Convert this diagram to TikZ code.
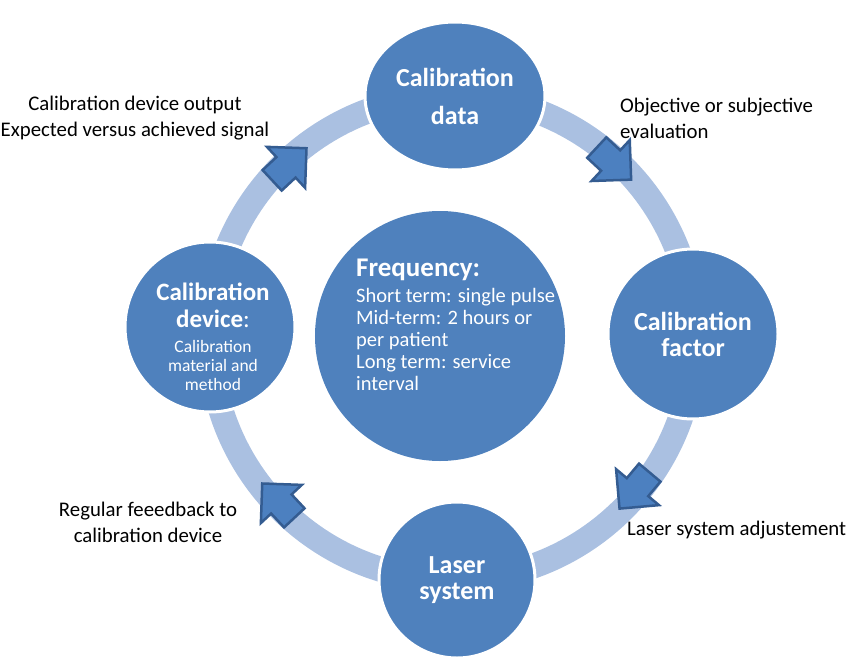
\documentclass[tikz,border=0pt]{standalone}
\usepackage{fontspec}
\setmainfont{Carlito}
\usetikzlibrary{shapes.geometric}

\definecolor{nodeblue}{RGB}{79,129,189}
\definecolor{arrowblue}{RGB}{76,128,192}
\definecolor{arrowline}{RGB}{52,92,145}
\definecolor{ringblue}{RGB}{170,192,225}
\newcommand\smalltxt{\fontsize{17.5}{19}\selectfont\mdseries}

\tikzset{
  stage/.style={circle, fill=nodeblue, draw=white, line width=3pt, text=white,
    font=\fontsize{26}{26}\selectfont\bfseries, align=center, inner sep=0pt},
  note/.style={font=\fontsize{20.8}{26}\selectfont, inner sep=0pt},
  flowarrow/.style={fill=arrowblue, draw=arrowline, line width=2.5pt, line join=miter}
}

\begin{document}
\begin{tikzpicture}[x=1pt,y=1pt]
    \useasboundingbox (-452,-329) rectangle (398,338);
    \coordinate (ring) at (0,0);
    \draw[ringblue, line width=25pt] (ring) circle (242);
    % the four stages
    \node[stage, ellipse, minimum width=180, minimum height=148] (data) at (3,242) {Calibration\\[12pt]data};
    \node[stage, minimum size=170] (factor) at (241,4) {Calibration\\factor};
    \node[stage, minimum size=156] (laser) at (5,-242) {Laser\\system};
    \node[stage, minimum size=170] (device) at (-242,11) {};
    \node[text=white, align=center, inner sep=0pt, font=\fontsize{25}{27}\selectfont\bfseries] (devtext) at ([shift={(3,-10)}]device.center)
        {Calibration\\device{\mdseries:}\\[-2pt]\smalltxt Calibration\\[-8pt]\smalltxt material and\\[-8pt]\smalltxt method};
    % centre
    \node[circle, fill=nodeblue, minimum size=250, inner sep=0pt] (freq) at (-12,2) {};
    \node[text=white, align=left, anchor=north west, inner sep=0pt, font=\fontsize{20.5}{22}\selectfont] (freqtext) at (-96,79)
        {{\fontsize{27}{27}\selectfont\bfseries Frequency:}\\[4pt]Short term: single pulse\\Mid-term: 2 hours or\\per patient\\Long term: service\\interval};
    % block arrows on the ring
    \foreach \ang in {133,47,-40,-137}
        \draw[flowarrow, shift={(\ang:238)}, rotate=\ang-90] (-24,-14) -- (-5,-14) -- (-5,-28) -- (23,0) -- (-5,28) -- (-5,14) -- (-24,14) -- cycle;
    % notes
    \node[note, align=center] (output) at (-317,220) {Calibration device output\\Expected versus achieved signal};
    \node[note, align=left, anchor=west] (evaluation) at (168,220) {Objective or subjective\\evaluation};
    \node[note, align=center] (feedback) at (-304,-184) {Regular feeedback to\\calibration device};
    \node[note, anchor=west] (adjust) at (175,-192) {Laser system adjustement};
\end{tikzpicture}
\end{document}
